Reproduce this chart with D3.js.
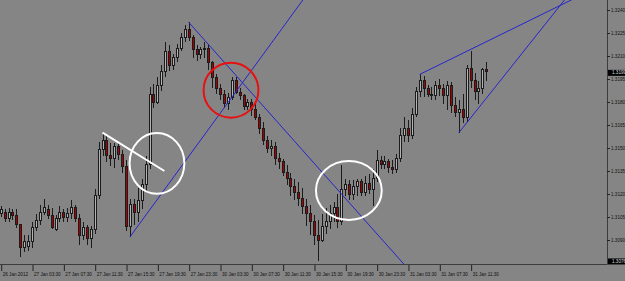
<!DOCTYPE html>
<html><head><meta charset="utf-8">
<script src="https://cdn.jsdelivr.net/npm/d3@7"></script>
<style>html,body{margin:0;padding:0;background:#858585;overflow:hidden}svg{display:block}</style>
</head><body><svg id="c" width="625" height="281"></svg>
<script>
// ---- data (EURUSD M30, 26 Jan 2012 23:30 -> 31 Jan) ----
const timeLabels = ["26 Jan 2012","27 Jan 03:30","27 Jan 07:30","27 Jan 11:30","27 Jan 15:30","27 Jan 19:30","27 Jan 23:30","30 Jan 03:30","30 Jan 07:30","30 Jan 11:30","30 Jan 15:30","30 Jan 19:30","30 Jan 23:30","31 Jan 03:30","31 Jan 07:30","31 Jan 11:30"];
const barsPerLabel = 8;
const priceTicks = [1.3240,1.3225,1.3210,1.3195,1.3180,1.3165,1.3150,1.3135,1.3120,1.3105,1.3090];
const markedPrices = [1.3199,1.3076];

const open = [1.3107,1.3108,1.3104,1.3108,1.3106,1.3100,1.3085,1.3086,1.3089,1.3098,
1.3103,1.3108,1.3110,1.3106,1.3097,1.3104,1.3108,1.3105,1.3107,1.3111,
1.3104,1.3093,1.3098,1.3091,1.3097,1.3119,1.3149,1.3155,1.3145,1.3143,
1.3151,1.3146,1.3138,1.3099,1.3113,1.3108,1.3116,1.3126,1.3139,1.3185,
1.3180,1.3191,1.3200,1.3213,1.3204,1.3209,1.3215,1.3222,1.3227,1.3222,
1.3214,1.3211,1.3214,1.3215,1.3206,1.3196,1.3189,1.3185,1.3179,1.3183,
1.3194,1.3186,1.3184,1.3177,1.3180,1.3175,1.3170,1.3163,1.3155,1.3150,
1.3151,1.3143,1.3141,1.3134,1.3130,1.3125,1.3121,1.3117,1.3112,1.3107,
1.3102,1.3093,1.3090,1.3099,1.3102,1.3107,1.3111,1.3102,1.3123,1.3126,
1.3120,1.3125,1.3128,1.3121,1.3127,1.3123,1.3130,1.3142,1.3139,1.3141,
1.3137,1.3136,1.3143,1.3158,1.3163,1.3158,1.3172,1.3187,1.3194,1.3189,
1.3185,1.3184,1.3191,1.3189,1.3184,1.3191,1.3178,1.3173,1.3175,1.3170,
1.3202,1.3194,1.3187,1.3189,1.3201];
const high = [1.3112,1.3110,1.3111,1.3110,1.3110,1.3100,1.3093,1.3093,1.3102,1.3107,
1.3113,1.3117,1.3113,1.3111,1.3106,1.3112,1.3110,1.3111,1.3116,1.3113,
1.3107,1.3102,1.3100,1.3099,1.3123,1.3154,1.3160,1.3158,1.3153,1.3153,
1.3154,1.3149,1.3142,1.3117,1.3117,1.3124,1.3130,1.3145,1.3190,1.3192,
1.3196,1.3204,1.3219,1.3217,1.3211,1.3218,1.3225,1.3230,1.3232,1.3224,
1.3217,1.3216,1.3219,1.3217,1.3207,1.3198,1.3192,1.3188,1.3186,1.3196,
1.3196,1.3189,1.3185,1.3182,1.3182,1.3179,1.3172,1.3167,1.3158,1.3155,
1.3154,1.3147,1.3143,1.3139,1.3134,1.3130,1.3128,1.3124,1.3117,1.3113,
1.3106,1.3103,1.3107,1.3111,1.3113,1.3115,1.3120,1.3139,1.3130,1.3129,
1.3129,1.3130,1.3130,1.3132,1.3133,1.3136,1.3149,1.3145,1.3145,1.3143,
1.3142,1.3146,1.3163,1.3170,1.3168,1.3176,1.3190,1.3198,1.3197,1.3191,
1.3190,1.3194,1.3195,1.3192,1.3194,1.3193,1.3183,1.3181,1.3185,1.3204,
1.3213,1.3199,1.3194,1.3202,1.3206];
const low = [1.3105,1.3102,1.3102,1.3103,1.3098,1.3079,1.3082,1.3083,1.3085,1.3096,
1.3100,1.3106,1.3104,1.3097,1.3096,1.3102,1.3102,1.3102,1.3104,1.3102,
1.3087,1.3090,1.3087,1.3085,1.3094,1.3117,1.3145,1.3141,1.3138,1.3137,
1.3142,1.3134,1.3096,1.3092,1.3100,1.3102,1.3110,1.3121,1.3136,1.3176,
1.3179,1.3187,1.3196,1.3200,1.3201,1.3206,1.3213,1.3219,1.3220,1.3209,
1.3207,1.3208,1.3209,1.3201,1.3189,1.3185,1.3181,1.3176,1.3175,1.3181,
1.3185,1.3181,1.3175,1.3175,1.3171,1.3168,1.3159,1.3152,1.3147,1.3145,
1.3139,1.3136,1.3132,1.3126,1.3119,1.3116,1.3112,1.3107,1.3099,1.3093,
1.3087,1.3076,1.3089,1.3094,1.3097,1.3102,1.3098,1.3100,1.3119,1.3116,
1.3116,1.3119,1.3119,1.3119,1.3120,1.3112,1.3128,1.3136,1.3136,1.3134,
1.3133,1.3134,1.3141,1.3154,1.3154,1.3156,1.3170,1.3183,1.3183,1.3183,
1.3181,1.3181,1.3184,1.3179,1.3175,1.3173,1.3170,1.3160,1.3166,1.3167,
1.3189,1.3181,1.3179,1.3185,1.3194];
const close = [1.3110,1.3104,1.3108,1.3106,1.3100,1.3085,1.3089,1.3089,1.3098,1.3103,
1.3108,1.3111,1.3106,1.3098,1.3104,1.3108,1.3105,1.3107,1.3111,1.3104,
1.3093,1.3098,1.3091,1.3097,1.3119,1.3149,1.3155,1.3145,1.3143,1.3151,
1.3146,1.3138,1.3099,1.3113,1.3108,1.3116,1.3126,1.3139,1.3185,1.3180,
1.3191,1.3200,1.3213,1.3204,1.3209,1.3215,1.3222,1.3227,1.3222,1.3214,
1.3211,1.3214,1.3215,1.3206,1.3196,1.3189,1.3185,1.3179,1.3183,1.3194,
1.3186,1.3184,1.3177,1.3180,1.3175,1.3170,1.3163,1.3155,1.3150,1.3151,
1.3143,1.3141,1.3134,1.3130,1.3125,1.3121,1.3117,1.3112,1.3107,1.3102,
1.3093,1.3090,1.3099,1.3102,1.3107,1.3111,1.3102,1.3123,1.3126,1.3120,
1.3125,1.3128,1.3121,1.3127,1.3123,1.3130,1.3142,1.3139,1.3141,1.3137,
1.3136,1.3143,1.3158,1.3163,1.3158,1.3172,1.3187,1.3194,1.3189,1.3185,
1.3184,1.3191,1.3189,1.3184,1.3191,1.3178,1.3173,1.3175,1.3170,1.3202,
1.3194,1.3187,1.3189,1.3201,1.3200];

// trend lines (rays) : anchor bar/price pairs
const blueRays = [
  {b1:33, p1:1.3092, b2:77, p2:1.3246},
  {b1:48, p1:1.3232, b2:102, p2:1.3077},
  {b1:107, p1:1.3198, b2:120, p2:1.32143},
  {b1:117, p1:1.3160, b2:141, p2:1.3237}
];
const whiteSegment = {b1:26, p1:1.3160, b2:41.8, p2:1.3135};
const ellipses = [
  {bar:58.8, price:1.31877, rb:7.0, rp:0.00179, color:"#e81010"},
  {bar:39.9, price:1.3140, rb:7.0, rp:0.00198, color:"#ffffff"},
  {bar:88.9, price:1.31223, rb:8.4, rp:0.00192, color:"#ffffff"}
];

// ---- drawing ----
const W = 625, H = 281, plotR = 607, plotB = 264;
const svg = d3.select("#c");
svg.append("rect").attr("width",W).attr("height",H).attr("fill","#858585");

const x = d3.scaleLinear().domain([0, 124]).range([0.7, 486.3]);
const y = d3.scaleLinear().domain([1.3240, 1.3090]).range([10, 240]);

svg.append("defs").append("clipPath").attr("id","plot")
  .append("rect").attr("x",0).attr("y",0).attr("width",plotR).attr("height",plotB);

const g = svg.append("g").attr("clip-path","url(#plot)");

// candles
const bars = d3.range(open.length).map(i => ({i, o:open[i], h:high[i], l:low[i], c:close[i]}));
const cg = g.append("g").attr("shape-rendering","crispEdges");
cg.selectAll("line.w").data(bars).join("line")
  .attr("x1", d => Math.round(x(d.i)) + 0.5).attr("x2", d => Math.round(x(d.i)) + 0.5)
  .attr("y1", d => y(d.h)).attr("y2", d => y(d.l))
  .attr("stroke","#1c1c1c").attr("stroke-width",1);
cg.selectAll("rect.b").data(bars).join("rect")
  .attr("x", d => Math.round(x(d.i)) - 0.5)
  .attr("width", 2)
  .attr("y", d => y(Math.max(d.o,d.c)))
  .attr("height", d => Math.max(1, Math.abs(y(d.o) - y(d.c))))
  .attr("fill", d => d.c >= d.o ? "#b2b2b2" : "#a80000")
  .attr("stroke","#1c1c1c").attr("stroke-width",1);

// blue rays
const farBar = 200;
g.selectAll("line.ray").data(blueRays).join("line")
  .attr("x1", d => x(d.b1)).attr("y1", d => y(d.p1))
  .attr("x2", d => x(farBar))
  .attr("y2", d => y(d.p1 + (d.p2 - d.p1) * (farBar - d.b1) / (d.b2 - d.b1)))
  .attr("stroke","#2626cc").attr("stroke-width",1);

// white segment
g.append("line")
  .attr("x1", x(whiteSegment.b1)).attr("y1", y(whiteSegment.p1))
  .attr("x2", x(whiteSegment.b2)).attr("y2", y(whiteSegment.p2))
  .attr("stroke","#ffffff").attr("stroke-width",2);

// circles
g.selectAll("ellipse").data(ellipses).join("ellipse")
  .attr("cx", d => x(d.bar)).attr("cy", d => y(d.price))
  .attr("rx", d => x(d.bar + d.rb) - x(d.bar))
  .attr("ry", d => y(d.price - d.rp) - y(d.price))
  .attr("fill","none").attr("stroke", d => d.color).attr("stroke-width",2);

// frame
svg.append("path").attr("d", `M${plotR+0.5},0V${plotB+0.5}H0`)
  .attr("fill","none").attr("stroke","#3c3c3c").attr("stroke-width",1);

// price axis
const ya = d3.axisRight(y).tickValues(priceTicks).tickSize(3).tickPadding(1)
  .tickFormat(d3.format(".4f"));
const yg = svg.append("g").attr("transform",`translate(${plotR},0)`).call(ya);
yg.select(".domain").remove();
yg.selectAll("line").attr("stroke","#222");
yg.selectAll("text").attr("fill","#111").attr("font-size","4.6px")
  .attr("font-family","'Liberation Sans', Arial, sans-serif");

// marked prices (black boxes)
const mk = svg.append("g").selectAll("g").data(markedPrices).join("g")
  .attr("transform", d => `translate(${plotR+1},${y(d)})`);
mk.append("rect").attr("x",0).attr("y",-3).attr("width",W-plotR).attr("height",6).attr("fill","#000");
mk.append("text").attr("x",4).attr("dy","0.35em").text(d => d3.format(".4f")(d))
  .attr("fill","#d8d8d8").attr("font-size","4.6px")
  .attr("font-family","'Liberation Sans', Arial, sans-serif");

// time axis
const tickBars = timeLabels.map((_, k) => k * barsPerLabel);
const xa = d3.axisBottom(x).tickValues(tickBars).tickSize(6).tickPadding(2)
  .tickFormat((d, k) => timeLabels[k]);
const xg = svg.append("g").attr("transform",`translate(0,${plotB+1})`).call(xa);
xg.select(".domain").remove();
xg.selectAll("line").attr("stroke","#222").attr("transform","translate(0.5,0)");
xg.selectAll("text").attr("text-anchor","start").attr("dx","1.5")
  .attr("fill","#111").attr("font-size","4.6px")
  .attr("font-family","'Liberation Sans', Arial, sans-serif");
</script></body></html>
